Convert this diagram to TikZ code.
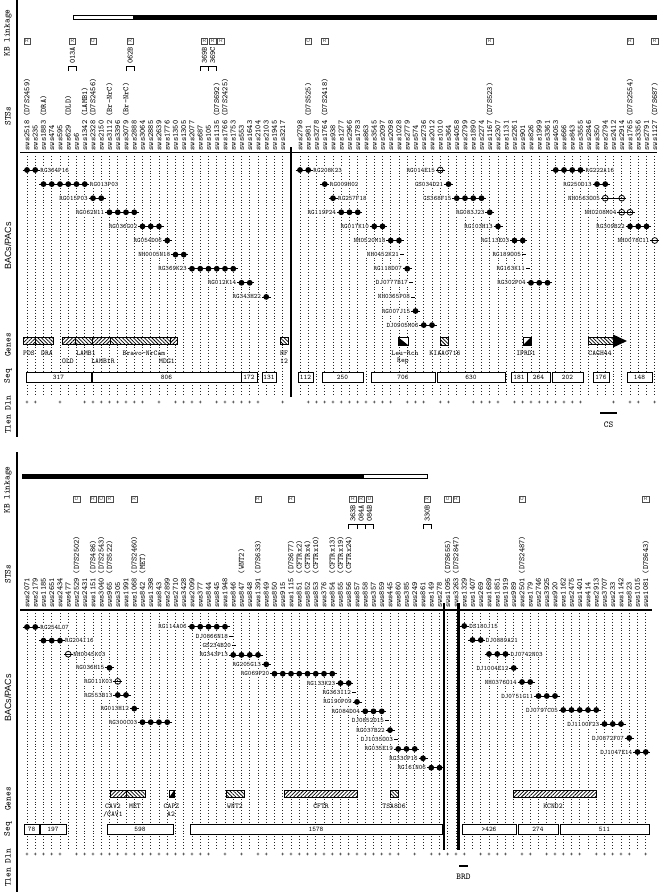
\documentclass[tikz,border=0pt]{standalone}
\usepackage{fontspec}
\newfontfamily\helv{Liberation Sans}
\usetikzlibrary{patterns,patterns.meta}
\pgfmathdeclarefunction{tx}{1}{\pgfmathparse{27+((#1)-1)*8.25+9*((#1)>32)}}
\pgfmathdeclarefunction{bx}{1}{\pgfmathparse{27+((#1)-1)*8.25}}
\tikzset{
  colline/.style={line width=0.7pt, dash pattern=on 0.8pt off 2.1pt, black!85},
  chain/.style={line width=0.8pt},
  fdot/.style={fill=black},
  odot/.style={draw=black, line width=0.8pt},
  clab/.style={font=\ttfamily\fontsize{6.7}{7}\selectfont, inner sep=0.5pt, fill=white},
  stsname/.style={rotate=90, anchor=west, inner sep=0pt, font=\ttfamily\fontsize{8}{8}\selectfont},
  kbbox/.style={draw=black!70, text=black!75, line width=0.5pt, minimum size=6.5pt, inner sep=0pt, font=\helv\fontsize{5}{5}\selectfont},
  sidelab/.style={rotate=90, inner sep=0pt, font=\ttfamily\fontsize{9}{9}\selectfont},
  genelab/.style={font=\ttfamily\fontsize{7.3}{7.3}\selectfont, inner sep=0pt},
  seqbox/.style={draw, fill=white, line width=0.6pt},
  seqlab/.style={font=\ttfamily\fontsize{7}{7}\selectfont, inner sep=0pt},
  plusm/.style={font=\ttfamily\fontsize{6.5}{6.5}\selectfont, inner sep=0pt},
  axisln/.style={line width=1.2pt},
  divider/.style={line width=2.3pt},
  brk/.style={line width=0.8pt},
  gbox/.style={draw, line width=0.6pt, preaction={fill=white}},
  hne/.style={pattern={Lines[angle=45,distance=2.6pt,line width=0.75pt]}},
  hnw/.style={pattern={Lines[angle=-45,distance=2.6pt,line width=0.75pt]}},
}
% fn, y, first col, last col, dot list, label, side L/R, dot style
\newcommand\clonerow[8]{%
  \pgfmathsetmacro\xa{#1(#3)-4.5}%
  \pgfmathsetmacro\xb{#1(#4)+4.5}%
  \draw[chain] (\xa,#2) -- (\xb,#2);
  \foreach \cc in {#5}{\pgfmathsetmacro\xc{#1(\cc)}\path[#8] (\xc,#2) circle[radius=2.9];}
  \if L#7\node[clab,anchor=east] (#6) at (\xa,#2) {#6};\else\node[clab,anchor=west] (#6) at (\xb,#2) {#6};\fi
}
% y, x, label
\newcommand\dashrow[3]{%
  \draw[chain] (#2,#1) -- ({#2+4},#1);
  \node[clab,anchor=east] (#3) at ({#2-0.3},#1) {#3};
}
\begin{document}
\begin{tikzpicture}[x=1pt,y=-1pt]
\useasboundingbox (0,0) rectangle (659,892);
\fill[white] (0,0) rectangle (659,892);

% ================= TOP PANEL =================
\draw[axisln] (17,0) -- (17,437);
\node[sidelab] (kbA) at (8,33) {KB linkage};
\node[sidelab] (stsA) at (8,116) {STSs};
\node[sidelab,font=\helv\fontsize{9}{9}\selectfont] (bacA) at (8,246) {BACs/PACs};
\node[sidelab] (genA) at (8,345) {Genes};
\node[sidelab] (seqA) at (8,376) {Seq};
\node[sidelab] (tlA) at (8,415) {Tlen Dln};

% linkage bar
\draw[line width=0.6pt, fill=white] (73,15) rectangle (133,19.5);
\fill (133,15) rectangle (657,19.5);

% STS names
\foreach \n [count=\c] in {sws2518,sws235,sws1883,sws474,sws595,sws629,sws6,sws1342,sws2328,sws2150,sws3112,sws3396,sws3079,sws2888,sws3064,sws2885,sws2639,sws1776,sws1350,sws1305,sws2077,sws687,sws105,sws1135,sws1766,sws1753,sws553,sws1643,sws2104,sws2103,sws1945,sws3217}
  {\node[stsname] (tn\c) at ({tx(\c)},150.5) {\n};}
\foreach \n [count=\c from 33] in {sws2798,sws981,sws3278,sws1764,sws938,sws1277,sws2966,sws1783,sws863,sws3545,sws2097,sws2098,sws1028,sws2779,sws574,sws2736,sws2012,sws1010,sws364,sws4058,sws2799,sws1890,sws2274,sws1167,sws2307,sws1131,sws2261,sws901,sws826,sws1999,sws3361,sws4053,sws666,sws843,sws3555,sws2846,sws350,sws2794,sws2412,sws2914,sws1765,sws3356,sws2791,sws1127}
  {\node[stsname] (tn\c) at ({tx(\c)},150.5) {\n};}
\foreach \c/\p in {1/D7S2459,3/DRA,6/DLD,8/LAMB1,9/D7S2456,11/Br-NrC,13/Br-NrC,24/D7S692,25/D7S2425,34/D7S525,36/D7S2418,56/D7S523,73/D7S2554,76/D7S687}
  {\node[stsname] (tp\c) at ({tx(\c)},116.9) {(\p)};}

% brackets and linkage boxes
\draw[brk] ({tx(6)},71) -- ({tx(6)},66) -- ({tx(7)},66) -- ({tx(7)},71);
\draw[brk] ({tx(13)},71) -- ({tx(13)},66) -- ({tx(14)},66) -- ({tx(14)},71);
\draw[brk] ({tx(22)},71) -- ({tx(22)},66) -- ({tx(24)},66) -- ({tx(24)},71);
\draw[brk] ({tx(23)},66) -- ({tx(23)},71);
\node[stsname] (b013A) at ({tx(6.5)},64) {013A};
\node[stsname] (b062B) at ({tx(13.5)},64) {062B};
\node[stsname] (b369B) at ({tx(22.5)},64) {369B};
\node[stsname] (b369C) at ({tx(23.5)},64) {369C};
\foreach \c/\l in {1/R,6.5/R,9/U,13.5/R,22.5/R,23.5/R,24.5/R,34/U,36/R,56/R,73/R,76/R}
  {\node[kbbox] (tk\c) at ({tx(\c)},41) {\l};}

% header rule
\draw[axisln] (20,152.5) -- (657,152.5);

% dotted columns
\foreach \c in {1,...,76} {\draw[colline] ({tx(\c)},156) -- ({tx(\c)},394);}

% divider
\draw[divider] (291,147) -- (291,397);

% clones, left
\clonerow{tx}{170}{1}{2}{1,2}{RG364P16}{R}{fdot}
\clonerow{tx}{184.1}{3}{8}{3,...,8}{RG013P03}{R}{fdot}
\clonerow{tx}{198.2}{9}{10}{9,10}{RG015P03}{L}{fdot}
\clonerow{tx}{212.3}{11}{14}{11,...,14}{RG062N11}{L}{fdot}
\clonerow{tx}{226.4}{15}{17}{15,16,17}{RG036G02}{L}{fdot}
\clonerow{tx}{240.5}{18}{18}{18}{RG054D06}{L}{fdot}
\clonerow{tx}{254.6}{19}{20}{19,20}{NH0005N18}{L}{fdot}
\clonerow{tx}{268.7}{21}{26}{21,...,26}{RG369K23}{L}{fdot}
\clonerow{tx}{282.8}{27}{28}{27,28}{RG012K14}{L}{fdot}
\clonerow{tx}{296.9}{30}{30}{30}{RG343H22}{L}{fdot}
% clones, right
\clonerow{tx}{170}{33}{34}{33,34}{RG208K23}{R}{fdot}
\clonerow{tx}{170}{50}{50}{50}{RG014E15}{L}{odot}
\clonerow{tx}{170}{64}{67}{64,...,67}{RG222A16}{R}{fdot}
\clonerow{tx}{184.1}{36}{36}{36}{RG009H02}{R}{fdot}
\clonerow{tx}{184.1}{51}{51}{51}{GS034D21}{L}{fdot}
\clonerow{tx}{184.1}{69}{70}{69,70}{RG250D13}{L}{fdot}
\clonerow{tx}{198.2}{37}{37}{37}{RG257F18}{R}{fdot}
\clonerow{tx}{198.2}{52}{55}{52,...,55}{GS368F15}{L}{fdot}
\clonerow{tx}{198.2}{70}{72}{70,72}{NH0563O05}{L}{odot}
\clonerow{tx}{212.3}{38}{40}{38,39,40}{RG119P24}{L}{fdot}
\clonerow{tx}{212.3}{56}{56}{56}{RG083J23}{L}{fdot}
\clonerow{tx}{212.3}{72}{73}{72,73}{NH0208M04}{L}{odot}
\clonerow{tx}{226.4}{42}{43}{42,43}{RG017K10}{L}{fdot}
\clonerow{tx}{226.4}{57}{57}{57}{RG103H13}{L}{fdot}
\clonerow{tx}{226.4}{73}{75}{73,74,75}{RG309B22}{L}{fdot}
\clonerow{tx}{240.5}{44}{45}{44,45}{NH0520M18}{L}{fdot}
\clonerow{tx}{240.5}{59}{60}{59,60}{RG113E03}{L}{fdot}
\clonerow{tx}{240.5}{76}{76}{76}{NH0078C11}{L}{odot}
\dashrow{254.6}{400}{NH0452K21}
\dashrow{254.6}{522}{RG189O05}
\clonerow{tx}{268.7}{46}{46}{46}{RG118D07}{L}{fdot}
\dashrow{268.7}{526}{RG163K11}
\dashrow{282.8}{409}{DJ0777B17}
\clonerow{tx}{282.8}{61}{63}{61,62,63}{RG302P04}{L}{fdot}
\dashrow{296.9}{411}{NH0365P08}
\clonerow{tx}{311}{47}{47}{47}{RG007J15}{L}{fdot}
\clonerow{tx}{325.1}{48}{49}{48,49}{DJ0905M06}{L}{fdot}

% genes
\draw[gbox,hne] (23,337.5) rectangle (35,344.5);
\draw[gbox,hnw] (35,337.5) rectangle (53,344.5);
\draw[gbox,hne] (62,337.5) rectangle (75,344.5);
\draw[gbox,hnw] (75,337.5) rectangle (92,344.5);
\draw[gbox,hne] (92,337.5) rectangle (110,344.5);
\draw[gbox,hnw] (110,337.5) rectangle (170,344.5);
\draw[gbox,hne] (170,337.5) rectangle (177,344.5);
\draw[gbox,hnw] (280,337.5) rectangle (288,344.5);
\draw[gbox] (398,337) rectangle (408,345);
\fill (398,337) -- (398,345) -- (408,345) -- cycle;
\draw[gbox,hnw] (440,337) rectangle (448,345);
\draw[gbox] (523,337) rectangle (531,345);
\fill (523,345) -- (531,337) -- (531,345) -- cycle;
\draw[gbox,hnw] (588,337.5) rectangle (613,344.5);
\fill (613,334.5) -- (627,341) -- (613,347.5) -- cycle;
\node[genelab] (gPDS) at (29,353) {PDS};
\node[genelab] (gDRA) at (47,353) {DRA};
\node[genelab] (gLAMB1) at (86,353) {LAMB1};
\node[genelab] (gBravo) at (144,353) {Bravo-NrCam};
\node[genelab] (gHF) at (284,353) {HF};
\node[genelab] (gOLD) at (68,361.5) {OLD};
\node[genelab] (gLAMB1R) at (103,361.5) {LAMB1R};
\node[genelab] (gMDG1) at (167,361.5) {MDG1};
\node[genelab] (gHF12) at (284,361.5) {12};
\node[genelab] (gLeu) at (405,353) {Leu-Rch};
\node[genelab] (gRep) at (403,361.5) {Rep};
\node[genelab] (gKIAA) at (445,353) {KIAA0716};
\node[genelab] (gIPRD1) at (526,353) {IPRD1};
\node[genelab] (gCAGH44) at (600,353) {CAGH44};

% sequence contigs
\foreach \a/\b/\t [count=\k] in {26/91/317,92/241/806,241/257/172,262/276/131,298/313/112,322/363/250,371/435/706,437/505/630,511/527/181,527/550/264,552/583/202,593/609/176,627/652/148}
  {\draw[seqbox] (\a,372) rectangle (\b,382); \node[seqlab] (ts\k) at ({(\a+\b)/2},377.3) {\t};}

% deletion marks
\foreach \c in {1,2,5,8,9,10,11,12,13,14,15,17,19,20,21,22,24,25,26,27,28,29,32,34,35,36,37,38,39,40,41,42,43,44,46,47,48,50,51,54,55,56,57,59,60,61,62,63,64,65,66,67,71,73,74,76}
  {\node[plusm] (tpl\c) at ({tx(\c)},403) {+};}

\draw[line width=1.5pt] (600,413) -- (617,413);
\node[font=\ttfamily\fontsize{9}{9}\selectfont] (CS) at (608.5,425) {CS};

% ================= BOTTOM PANEL =================
\draw[axisln] (17,452) -- (17,892);
\node[sidelab] (kbB) at (8,490) {KB linkage};
\node[sidelab] (stsB) at (8,574) {STSs};
\node[sidelab,font=\helv\fontsize{9}{9}\selectfont] (bacB) at (8,698) {BACs/PACs};
\node[sidelab] (genB) at (8,799) {Genes};
\node[sidelab] (seqB) at (8,829) {Seq};
\node[sidelab] (tlB) at (8,868) {Tlen Dln};

\fill (22,474) rectangle (363,478.5);
\draw[line width=0.6pt, fill=white] (363,474) rectangle (427,478.5);

\foreach \n [count=\c] in {sws2071,sws2179,sws1185,sws2651,sws2434,sws477,sws2529,sws2431,sws1151,sws3040,sws965,sws305,sws1991,sws1068,sws842,sws1398,sws843,sws2899,sws2710,sws3428,sws2099,sws377,sws844,sws845,sws1948,sws846,sws847,sws848,sws1391,sws849,sws850,sws915,sws1115,sws851,sws852,sws853,sws376,sws854,sws855,sws856,sws857,sws858,sws357,sws859,sws445,sws860,sws385,sws249,sws861,sws149,sws278,sws1095,sws3263,sws1329,sws1407,sws269,sws1689,sws1851,sws1919,sws989,sws2501,sws179,sws2746,sws3925,sws920,sws1162,sws2475,sws1401,sws414,sws2913,sws3707,sws233,sws1142,sws823,sws1015,sws1081}
  {\node[stsname] (bn\c) at ({bx(\c)},608) {\n};}
\foreach \c/\p in {7/D7S2502,9/D7S486,10/D7S2543,11/D7S522,14/D7S2460,15/MET,27/WNT2,29/D7S633,33/D7S677,34/CFTRx2,35/CFTRx4,36/CFTRx10,38/CFTRx13,39/CFTRx19,40/CFTRx24,52/D7S655,53/D7S2847,61/D7S2487,76/D7S643}
  {\node[stsname] (bp\c) at ({bx(\c)},574.4) {(\p)};}

\draw[brk] ({bx(40)},529) -- ({bx(40)},524) -- ({bx(43)},524) -- ({bx(43)},529);
\draw[brk] ({bx(41)},524) -- ({bx(41)},529);
\draw[brk] ({bx(42)},524) -- ({bx(42)},529);
\draw[brk] ({bx(49)},529) -- ({bx(49)},524) -- ({bx(50)},524) -- ({bx(50)},529);
\node[stsname] (b363B) at ({bx(40.5)},522) {363B};
\node[stsname] (b084A) at ({bx(41.5)},522) {084A};
\node[stsname] (b084B) at ({bx(42.5)},522) {084B};
\node[stsname] (b330B) at ({bx(49.5)},522) {330B};
\foreach \c/\l in {7/U,9/R,10/U,11/R,14/R,29/R,33/R,40.5/R,41.5/R,42.5/U,49.5/R,52/U,53/R,61/U,76/R}
  {\node[kbbox] (bk\c) at ({bx(\c)},499) {\l};}

\draw[axisln] (20,610) -- (652,610);

\foreach \c in {1,...,76} {\draw[colline] ({bx(\c)},613) -- ({bx(\c)},848);}

\draw[divider] (444,603) -- (444,850);
\draw[divider] (458.5,603) -- (458.5,850);

% left cluster
\clonerow{bx}{627}{1}{2}{1,2}{RG254L07}{R}{fdot}
\clonerow{bx}{640.6}{3}{5}{3,4,5}{RG204I16}{R}{fdot}
\clonerow{bx}{654.2}{6}{6}{6}{NH0045K03}{R}{odot}
\clonerow{bx}{667.8}{11}{11}{11}{RG036H15}{L}{fdot}
\clonerow{bx}{681.4}{12}{12}{12}{RG011K03}{L}{odot}
\clonerow{bx}{695}{12}{13}{12,13}{RG553B13}{L}{fdot}
\clonerow{bx}{708.6}{14}{14}{14}{RG013H12}{L}{fdot}
\clonerow{bx}{722.2}{15}{18}{15,...,18}{RG300C03}{L}{fdot}
% middle cluster
\clonerow{bx}{626.7}{21}{25}{21,...,25}{RG114A06}{L}{fdot}
\dashrow{636.1}{229}{DJ0866N18}
\dashrow{645.5}{232}{GS234B20}
\clonerow{bx}{654.9}{26}{29}{26,...,29}{RG343P13}{L}{fdot}
\clonerow{bx}{664.3}{30}{30}{30}{RG205G13}{L}{fdot}
\clonerow{bx}{673.7}{31}{38}{31,...,38}{RG069P20}{L}{fdot}
\clonerow{bx}{683.1}{39}{40}{39,40}{RG133K23}{L}{fdot}
\dashrow{692.5}{352}{RG363I12}
\clonerow{bx}{701.9}{41}{41}{41}{RG190P09}{L}{fdot}
\clonerow{bx}{711.3}{42}{44}{42,43,44}{RG084D04}{L}{fdot}
\dashrow{720.7}{385}{DJ0852D15}
\clonerow{bx}{730.1}{45}{45}{45}{RG037B22}{L}{fdot}
\dashrow{739.5}{394}{DJ1035O03}
\clonerow{bx}{748.9}{46}{48}{46,47,48}{RG035E19}{L}{fdot}
\clonerow{bx}{758.3}{49}{49}{49}{RG330P16}{L}{fdot}
\clonerow{bx}{767.7}{50}{51}{50,51}{RG161N06}{L}{fdot}
% right cluster
\clonerow{bx}{626}{54}{54}{54}{DS180J15}{R}{fdot}
\clonerow{bx}{640}{55}{56}{55,56}{DJ0889A21}{R}{fdot}
\clonerow{bx}{654}{57}{59}{57,58,59}{DJ0742N03}{R}{fdot}
\clonerow{bx}{668}{60}{60}{60}{DJ1004E12}{L}{fdot}
\clonerow{bx}{682}{61}{62}{61,62}{NH0376O14}{L}{fdot}
\clonerow{bx}{696}{63}{65}{63,64,65}{DJ0751G11}{L}{fdot}
\clonerow{bx}{710}{66}{70}{66,...,70}{DJ0797C05}{L}{fdot}
\clonerow{bx}{724}{71}{73}{71,72,73}{DJ1100F23}{L}{fdot}
\clonerow{bx}{738}{74}{74}{74}{DJ0872F07}{L}{fdot}
\clonerow{bx}{752}{75}{76}{75,76}{DJ1047E14}{L}{fdot}

% genes
\draw[gbox,hne] (110,790.5) rectangle (126,797.5);
\draw[gbox,hnw] (126,790.5) rectangle (145,797.5);
\draw[gbox] (169,790.5) rectangle (174,797.5);
\fill (169,797.5) -- (174,790.5) -- (174,797.5) -- cycle;
\draw[gbox,hnw] (226,790.5) rectangle (244,797.5);
\draw[gbox,hne] (284,790.5) rectangle (357,797.5);
\draw[gbox,hnw] (390,790.5) rectangle (398,797.5);
\draw[gbox,hne] (513,790.5) rectangle (596,797.5);
\node[genelab] (gCAV2) at (113,806) {CAV2};
\node[genelab] (gMET) at (135,806) {MET};
\node[genelab] (gCAV1) at (113,814) {/CAV1};
\node[genelab] (gCAPZ) at (171.5,806) {CAPZ};
\node[genelab] (gA2) at (171,814) {A2};
\node[genelab] (gWNT2) at (235,806) {WNT2};
\node[genelab] (gCFTR) at (321,806) {CFTR};
\node[genelab] (gTSA) at (394,806) {TSA806};
\node[genelab] (gKCND2) at (553,806) {KCND2};

\foreach \a/\b/\t [count=\k] in {24/39/78,40/66/197,107/173/598,190/442/1578,462/516/>426,518/558/274,560/649/511}
  {\draw[seqbox] (\a,824) rectangle (\b,834); \node[seqlab] (bs\k) at ({(\a+\b)/2},829.3) {\t};}

\foreach \c in {1,2,3,4,5,7,8,9,10,11,12,13,14,15,16,17,18,19,20,21,22,23,25,27,29,30,32,33,34,35,36,37,38,39,40,41,42,43,44,45,46,48,50,51,52,53,54,56,57,58,59,61,62,64,65,66,67,68,70,71,72,73,74,76}
  {\node[plusm] (bpl\c) at ({bx(\c)},855) {+};}

\draw[line width=1.5pt] (459,866) -- (468,866);
\node[font=\ttfamily\fontsize{9}{9}\selectfont] (BRD) at (463.5,877) {BRD};
\end{tikzpicture}
\end{document}
